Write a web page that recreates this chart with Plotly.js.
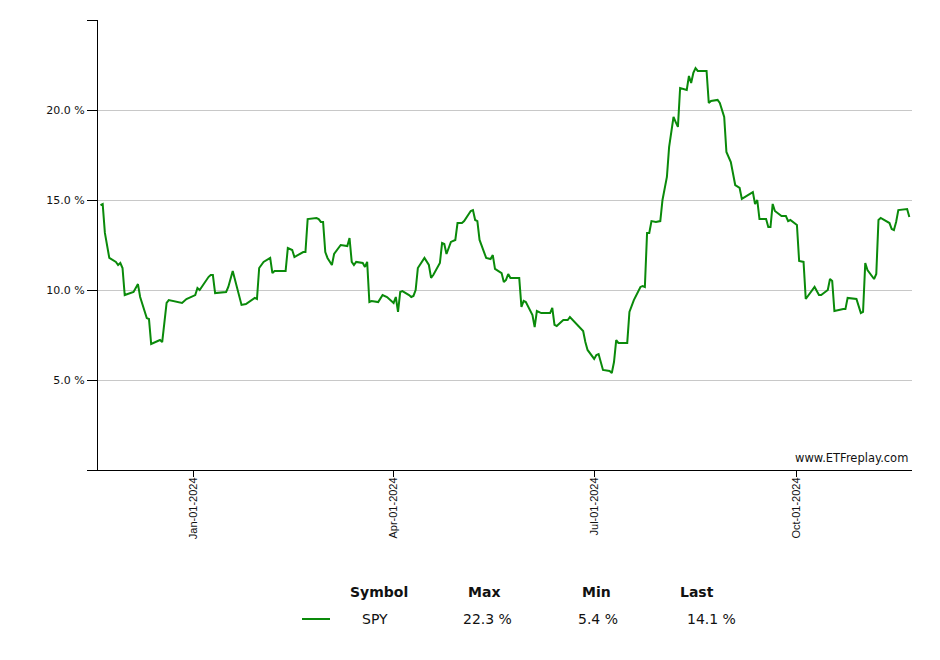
<!DOCTYPE html>
<html>
<head>
<meta charset="utf-8">
<script src="https://cdn.plot.ly/plotly-3.0.1.min.js"></script>
<style>
html,body{margin:0;padding:0;background:#fff;}
#chart{width:940px;height:660px;}
</style>
</head>
<body>
<div id="chart"></div>
<script>
var symbol = "SPY";
var dates = [
"2023-11-20","2023-11-21","2023-11-22","2023-11-24","2023-11-27","2023-11-28","2023-11-29","2023-11-30",
"2023-12-01","2023-12-05","2023-12-07","2023-12-08","2023-12-11","2023-12-12","2023-12-13","2023-12-15",
"2023-12-17","2023-12-18","2023-12-20","2023-12-21","2023-12-27","2023-12-29",
"2024-01-02","2024-01-03","2024-01-04","2024-01-08","2024-01-09","2024-01-10","2024-01-11","2024-01-16",
"2024-01-17","2024-01-19","2024-01-23","2024-01-25","2024-01-29","2024-01-30","2024-01-31",
"2024-02-02","2024-02-05","2024-02-06","2024-02-07","2024-02-12","2024-02-13","2024-02-15","2024-02-16",
"2024-02-20","2024-02-21","2024-02-22","2024-02-26","2024-02-27","2024-02-28","2024-02-29",
"2024-03-01","2024-03-02","2024-03-04","2024-03-05","2024-03-06","2024-03-08","2024-03-11","2024-03-12",
"2024-03-13","2024-03-14","2024-03-15","2024-03-18","2024-03-19","2024-03-20","2024-03-21","2024-03-22",
"2024-03-25","2024-03-27","2024-03-29",
"2024-04-01","2024-04-02","2024-04-03","2024-04-04","2024-04-05","2024-04-08","2024-04-09","2024-04-10",
"2024-04-11","2024-04-12","2024-04-15","2024-04-17","2024-04-18","2024-04-19","2024-04-22","2024-04-23",
"2024-04-24","2024-04-25","2024-04-27","2024-04-29","2024-04-30",
"2024-05-02","2024-05-03","2024-05-06","2024-05-07","2024-05-08","2024-05-09","2024-05-10","2024-05-13",
"2024-05-15","2024-05-16","2024-05-17","2024-05-20","2024-05-21","2024-05-22","2024-05-23","2024-05-24",
"2024-05-28","2024-05-29","2024-05-30","2024-05-31",
"2024-06-03","2024-06-04","2024-06-05","2024-06-07","2024-06-11","2024-06-12","2024-06-13","2024-06-14",
"2024-06-17","2024-06-19","2024-06-20","2024-06-25","2024-06-26","2024-06-27","2024-06-28",
"2024-07-01","2024-07-02","2024-07-03","2024-07-05","2024-07-08","2024-07-09","2024-07-10","2024-07-11",
"2024-07-12","2024-07-16","2024-07-17","2024-07-19","2024-07-22","2024-07-23","2024-07-24","2024-07-25",
"2024-07-26","2024-07-27","2024-07-29","2024-07-31",
"2024-08-01","2024-08-03","2024-08-04","2024-08-05","2024-08-06","2024-08-07","2024-08-08","2024-08-09",
"2024-08-10","2024-08-12","2024-08-13","2024-08-14","2024-08-15","2024-08-16","2024-08-17","2024-08-21",
"2024-08-22","2024-08-23","2024-08-26","2024-08-27","2024-08-29","2024-08-30",
"2024-09-01","2024-09-03","2024-09-05","2024-09-06","2024-09-11","2024-09-12","2024-09-13","2024-09-14",
"2024-09-17","2024-09-18","2024-09-19","2024-09-20","2024-09-21","2024-09-24","2024-09-26","2024-09-27",
"2024-09-28",
"2024-10-01","2024-10-02","2024-10-04","2024-10-05","2024-10-07","2024-10-09","2024-10-11","2024-10-12",
"2024-10-15","2024-10-16","2024-10-17","2024-10-18","2024-10-22","2024-10-23","2024-10-24","2024-10-28",
"2024-10-30","2024-10-31",
"2024-11-01","2024-11-02","2024-11-05","2024-11-06","2024-11-07","2024-11-08","2024-11-12","2024-11-13",
"2024-11-14","2024-11-15","2024-11-16","2024-11-20","2024-11-21"
];
var values = [
14.72,14.78,13.17,11.78,11.56,11.39,11.50,11.22,
9.72,9.89,10.33,9.61,8.44,8.39,7.00,7.11,
7.22,7.11,9.28,9.44,9.28,9.50,
9.72,10.11,10.00,10.72,10.83,10.83,9.83,9.89,
10.17,11.06,9.17,9.22,9.56,9.50,11.22,
11.56,11.78,10.94,11.06,11.06,12.33,12.22,11.83,
12.11,12.11,13.94,14.00,13.94,13.78,13.78,
12.11,11.78,11.39,12.00,12.17,12.50,12.44,12.89,
11.56,11.39,11.56,11.50,11.28,11.56,9.33,9.39,
9.33,9.72,9.61,
9.28,9.61,8.78,9.89,9.94,9.72,9.61,9.67,
10.00,11.22,11.78,11.39,10.67,10.83,11.50,12.61,
12.56,12.00,12.67,12.78,13.72,
13.72,13.83,14.39,14.44,13.89,13.83,12.78,11.78,
11.72,11.94,11.17,10.94,10.44,10.56,10.89,10.67,
10.67,9.06,9.39,9.33,
8.61,7.94,8.83,8.72,8.72,9.00,8.06,8.00,
8.33,8.33,8.50,7.89,7.72,7.11,6.67,
6.17,6.39,6.44,5.56,5.50,5.39,6.00,7.22,
7.06,7.06,8.78,9.44,10.17,10.22,10.17,13.17,
13.17,13.83,13.78,13.83,
15.00,16.28,17.94,18.89,19.61,19.33,19.06,21.22,
21.17,21.11,21.89,21.50,22.06,22.33,22.17,22.17,
20.39,20.50,20.56,20.39,19.61,17.67,
17.11,15.83,15.67,15.06,15.44,14.78,15.00,13.94,
13.94,13.50,13.50,14.78,14.39,14.11,14.11,13.83,
13.89,
13.61,11.61,11.56,9.50,9.83,10.17,9.72,9.72,
10.00,10.61,10.50,8.83,8.94,8.94,9.56,9.50,
8.72,8.78,
11.50,11.11,10.61,10.89,13.89,14.00,13.72,13.39,
13.33,13.78,14.44,14.50,14.06
];
var xTickVals = ["2024-01-01","2024-04-01","2024-07-01","2024-10-01"];
var yTickVals = [0,5,10,15,20,25];
var yTickText = ["","5.0 %","10.0 %","15.0 %","20.0 %",""];
var tableHeaders = ["Symbol","Max","Min","Last"];

var lineColor = "#0a8a0a";
var font = "DejaVu Sans, Verdana, sans-serif";
var fontX = "Liberation Sans, Arial, sans-serif";

var maxV = Math.max.apply(null, values);
var minV = Math.min.apply(null, values);
var lastV = values[values.length-1];
var rowValues = [symbol, maxV.toFixed(1)+" %", minV.toFixed(1)+" %", lastV.toFixed(1)+" %"];

var headX = [0.3452,0.4742,0.6118,0.7359];
var rowX = [0.3403,0.4779,0.6143,0.7531];
var headY = -0.2711, rowY = -0.3311;

var annotations = [];
for (var i=0;i<tableHeaders.length;i++){
  annotations.push({xref:"paper",yref:"paper",x:headX[i],y:headY,text:"<b>"+tableHeaders[i]+"</b>",
    showarrow:false,xanchor:"center",yanchor:"middle",font:{family:font,size:14,color:"#111"}});
  annotations.push({xref:"paper",yref:"paper",x:rowX[i],y:rowY,text:rowValues[i],
    showarrow:false,xanchor:"center",yanchor:"middle",font:{family:font,size:14,color:"#111"}});
}
annotations.push({xref:"paper",yref:"paper",x:0.997,y:0.007,text:"www.ETFreplay.com",showarrow:false,
  xanchor:"right",yanchor:"bottom",font:{family:font,size:11.5,color:"#111"}});

var trace = {x:dates,y:values,type:"scatter",mode:"lines",line:{color:lineColor,width:2},hoverinfo:"skip",showlegend:false};

var layout = {
  width:940,height:660,
  margin:{l:98,r:28,t:20,b:190,pad:0},
  paper_bgcolor:"#fff",plot_bgcolor:"#fff",
  showlegend:false,
  xaxis:{type:"date",range:["2023-11-18 21:00","2024-11-22 05:00"],
    tickmode:"array",tickvals:xTickVals,tickformat:"%b-%d-%Y",tickangle:-90,
    ticks:"outside",ticklen:6,tickcolor:"#000",showgrid:false,zeroline:false,
    showline:true,linecolor:"#000",linewidth:1,ticklabelstandoff:-4,
    tickfont:{family:fontX,size:11,color:"#111"},fixedrange:true},
  yaxis:{range:[0,25],tickmode:"array",tickvals:yTickVals,ticktext:yTickText,
    ticks:"outside",ticklen:10,tickcolor:"#000",showgrid:true,gridcolor:"#c8c8c8",gridwidth:1,
    zeroline:false,showline:true,linecolor:"#000",linewidth:1,
    tickfont:{family:font,size:11,color:"#111"},fixedrange:true},
  annotations:annotations,
  shapes:[{type:"line",xref:"paper",yref:"paper",x0:0.2506,x1:0.2850,y0:rowY,y1:rowY,
    line:{color:lineColor,width:2}}]
};
Plotly.newPlot("chart",[trace],layout,{displayModeBar:false,staticPlot:true});
</script>
</body>
</html>
